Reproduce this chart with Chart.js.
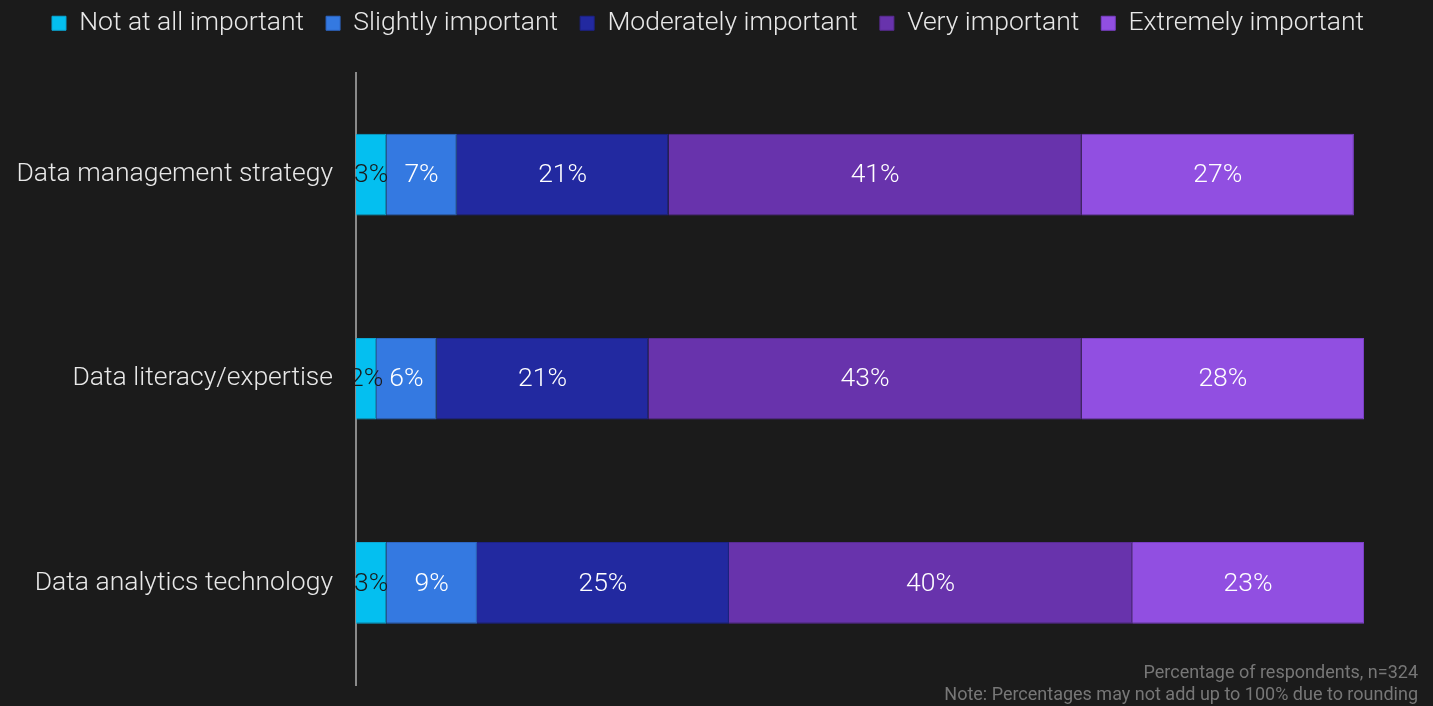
<!DOCTYPE html>
<html>
<head>
<meta charset="utf-8">
<script src="https://cdn.jsdelivr.net/npm/chart.js@4"></script>
<style>
  html, body { margin: 0; padding: 0; background: #1b1b1b; }
  #chart { display: block; }
</style>
</head>
<body>
<canvas id="chart" width="1433" height="706"></canvas>
<script>
var categories = ['Data management strategy', 'Data literacy/expertise', 'Data analytics technology'];
var seriesNames = ['Not at all important', 'Slightly important', 'Moderately important', 'Very important', 'Extremely important'];
var notAtAll = [3, 2, 3];
var slightly = [7, 6, 9];
var moderately = [21, 21, 25];
var veryImportant = [41, 43, 40];
var extremely = [27, 28, 23];
var footnotes = ['Percentage of respondents, n=324', 'Note: Percentages may not add up to 100% due to rounding'];

var colors = ['#04bff0', '#3479e1', '#2229a0', '#6833ac', '#914fe1'];
var borders = ['#0aa6d4', '#2d66c4', '#1c2288', '#582b93', '#7a3fc6'];
var labelColors = ['#1a1a1a', '#ffffff', '#ffffff', '#ffffff', '#ffffff'];
var values = [notAtAll, slightly, moderately, veryImportant, extremely];

var bgPlugin = {
  id: 'bg',
  beforeInit: function (chart) {
    // extra space under the legend
    var fit = chart.legend.fit;
    chart.legend.fit = function () {
      fit.bind(chart.legend)();
      this.height += 26;
    };
  },
  beforeDraw: function (chart) {
    var c = chart.ctx;
    c.save();
    c.fillStyle = '#1b1b1b';
    c.fillRect(0, 0, chart.width, chart.height);
    c.restore();
  }
};

var labelPlugin = {
  id: 'barLabels',
  afterDatasetsDraw: function (chart) {
    var c = chart.ctx;
    c.save();
    c.font = '300 26.5px Roboto';
    c.textAlign = 'center';
    c.textBaseline = 'middle';
    chart.data.datasets.forEach(function (ds, i) {
      var meta = chart.getDatasetMeta(i);
      meta.data.forEach(function (el, j) {
        c.fillStyle = labelColors[i];
        c.fillText(ds.data[j] + '%', (el.x + el.base) / 2, el.y + 1);
      });
    });
    // footnote
    c.font = '18px Roboto';
    c.fillStyle = '#777777';
    c.textAlign = 'right';
    c.fillText(footnotes[0], 1418, 673);
    c.fillText(footnotes[1], 1418, 695);
    c.restore();
  }
};

function noPad(scale) {
  scale.paddingTop = 0;
  scale.paddingBottom = 0;
}

var chart = new Chart(document.getElementById('chart').getContext('2d'), {
  type: 'bar',
  data: {
    labels: categories,
    datasets: seriesNames.map(function (name, i) {
      return {
        label: name,
        data: values[i],
        backgroundColor: colors[i],
        borderColor: borders[i],
        borderWidth: 1,
        barPercentage: 0.4,
        categoryPercentage: 1
      };
    })
  },
  options: {
    indexAxis: 'y',
    responsive: false,
    animation: false,
    layout: { padding: { left: 0, right: 17, top: -12, bottom: 21 } },
    scales: {
      x: { stacked: true, min: 0, max: 100, display: false },
      y: {
        stacked: true,
        afterFit: function (scale) { scale.width = 356; noPad(scale); },
        grid: { display: false, drawTicks: false },
        border: { display: true, color: '#8a8a8a', width: 2 },
        ticks: { color: '#e8e8e8', font: { family: 'Roboto', size: 26.5, weight: '300' }, padding: 23 }
      },
      rightGap: {
        type: 'linear',
        axis: 'y',
        position: 'right',
        afterFit: function (scale) { scale.width = 52; noPad(scale); },
        grid: { display: false, drawTicks: false },
        border: { display: false },
        ticks: { display: false }
      }
    },
    plugins: {
      legend: {
        position: 'top',
        labels: {
          color: '#e8e8e8',
          font: { family: 'Roboto', size: 26.5, weight: '300' },
          boxWidth: 14,
          boxHeight: 14,
          padding: 22
        }
      },
      tooltip: { enabled: false }
    }
  },
  plugins: [bgPlugin, labelPlugin]
});
</script>
</body>
</html>
